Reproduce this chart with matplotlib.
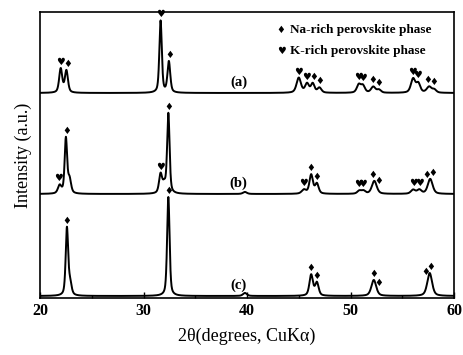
import numpy as np
import matplotlib
matplotlib.use("Agg")
import matplotlib.pyplot as plt
from matplotlib.ticker import MultipleLocator

# peak lists: position (deg), height (a.u.), FWHM (deg)
pos_a = [22.0, 22.55, 31.65, 32.45, 45.0, 45.8, 46.35, 47.0, 50.8, 51.2, 52.2, 52.75, 56.05, 56.55, 57.6, 58.1]
hgt_a = [24, 22, 72, 31, 15, 9, 9, 5, 8, 7, 6, 3, 14, 9, 6, 3]
wid_a = [0.35, 0.35, 0.28, 0.32, 0.5, 0.45, 0.4, 0.45, 0.45, 0.45, 0.5, 0.45, 0.5, 0.45, 0.55, 0.45]

pos_b = [21.9, 22.5, 22.85, 31.65, 32.0, 32.4, 39.8, 45.5, 46.2, 46.75, 50.85, 51.25, 52.3, 56.05, 56.65, 57.7]
hgt_b = [8, 55, 14, 19, 8, 80, 2, 4, 19, 10, 3, 3, 13, 4, 4, 15]
wid_b = [0.4, 0.28, 0.35, 0.35, 0.35, 0.28, 0.45, 0.5, 0.4, 0.4, 0.45, 0.45, 0.55, 0.5, 0.5, 0.55]

pos_c = [22.6, 22.9, 32.4, 39.8, 46.2, 46.75, 52.25, 57.65]
hgt_c = [67, 12, 99, 3, 21, 13, 16, 23]
wid_c = [0.28, 0.35, 0.28, 0.45, 0.4, 0.4, 0.55, 0.55]

base_a, base_b, base_c = 205, 104, 2

# phase markers (peak angles)
na_a = [22.7, 32.5, 46.4, 47.05, 52.1, 52.75, 57.5, 58.05]
k_a = [21.95, 31.65, 44.95, 45.75, 50.75, 51.15, 55.95, 56.45]
na_b = [22.55, 32.4, 46.2, 46.75, 52.1, 52.75, 57.4, 57.95]
k_b = [21.75, 31.6, 45.5, 50.8, 51.2, 56.05, 56.7]
na_c = [22.6, 32.4, 46.2, 46.75, 52.2, 52.75, 57.3, 57.8]

labels = ["(a)", "(b)", "(c)"]

x = np.linspace(20, 60, 4001)


def profile(pos, hgt, wid, base):
    # pseudo-Voigt peaks on a flat background
    y = np.full_like(x, float(base))
    for p, h, w in zip(pos, hgt, wid):
        lor = 1 / (1 + ((x - p) / (w / 2)) ** 2)
        gau = np.exp(-4 * np.log(2) * ((x - p) / w) ** 2)
        y += h * (0.5 * lor + 0.5 * gau)
    return y


def mark_height(y, p):
    # sit the symbol just above the local top of the trace
    near = np.abs(x - p) < 0.2
    return y[near].max() + 6


fig = plt.figure(figsize=(4.63, 3.55), dpi=100)
ax = fig.add_axes([40 / 463, 57 / 355, 414 / 463, 286 / 355])

traces = [
    (pos_a, hgt_a, wid_a, base_a, na_a, k_a),
    (pos_b, hgt_b, wid_b, base_b, na_b, k_b),
    (pos_c, hgt_c, wid_c, base_c, na_c, []),
]

for (pos, hgt, wid, base, na, kk), lab in zip(traces, labels):
    y = profile(pos, hgt, wid, base)
    ax.plot(x, y, color="black", lw=1.4)
    for p in na:
        ax.text(p, mark_height(y, p), "\u2666", family="DejaVu Sans", fontsize=7,
                ha="center", va="center")
    for p in kk:
        ax.text(p, mark_height(y, p), "\u2665", family="DejaVu Sans", fontsize=7,
                ha="center", va="center")
    ax.text(39.2, base + 11, lab, family="Liberation Serif", fontweight="bold",
            fontsize=10.5, ha="center", va="center")

# legend drawn as text
ax.text(43.3, 268, "\u2666", family="DejaVu Sans", fontsize=7, ha="center", va="center")
ax.text(44.2, 268, "Na-rich perovskite phase", family="Liberation Serif",
        fontweight="bold", fontsize=9.5, ha="left", va="center")
ax.text(43.3, 247, "\u2665", family="DejaVu Sans", fontsize=7, ha="center", va="center")
ax.text(44.2, 247, "K-rich perovskite phase", family="Liberation Serif",
        fontweight="bold", fontsize=9.5, ha="left", va="center")

ax.set_xlim(20, 60)
ax.set_ylim(0, 286)
ax.set_yticks([])
ax.xaxis.set_major_locator(MultipleLocator(10))
ax.xaxis.set_minor_locator(MultipleLocator(5))
ax.tick_params(axis="x", which="major", direction="in", length=4, width=1, top=False)
ax.tick_params(axis="x", which="minor", direction="in", length=2, width=1, top=False)
for lbl in ax.get_xticklabels():
    lbl.set_family("Liberation Serif")
    lbl.set_fontweight("bold")
    lbl.set_fontsize(11.5)
for s in ax.spines.values():
    s.set_linewidth(1.2)

ax.set_xlabel("2\u03b8(degrees, CuK\u03b1)", family="Liberation Serif", fontsize=13, labelpad=6)
ax.set_ylabel("Intensity (a.u.)", family="Liberation Serif", fontsize=13, labelpad=6)

fig.savefig("out.png", dpi=100)
